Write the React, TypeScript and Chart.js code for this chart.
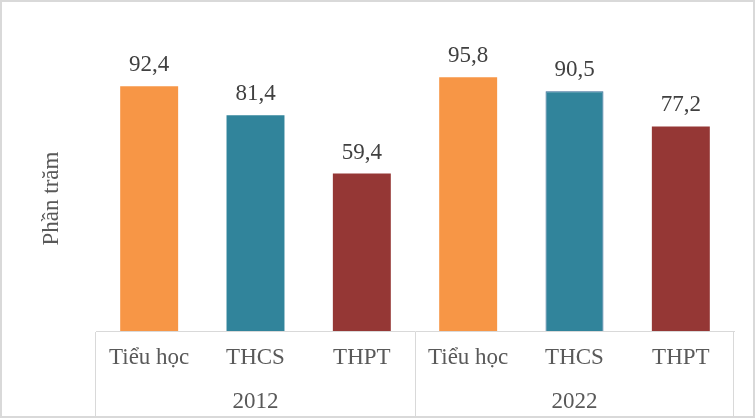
import React, { useEffect, useRef } from "react";
import { Chart, registerables } from "chart.js";

Chart.register(...registerables);

const years = ["2012", "2022"];
const levels = ["Tiểu học", "THCS", "THPT"];
const values2012 = [92.4, 81.4, 59.4];
const values2022 = [95.8, 90.5, 77.2];
const levelColors = ["#F79646", "#31849B", "#953735"];

const FONT = "'Liberation Serif', 'Times New Roman', serif";

const valueLabels = {
  id: "valueLabels",
  afterDatasetsDraw(chart: Chart) {
    const { ctx } = chart;
    const meta = chart.getDatasetMeta(0);
    const data = chart.data.datasets[0].data as number[];
    ctx.save();
    ctx.font = `23px ${FONT}`;
    ctx.fillStyle = "#404040";
    ctx.textAlign = "center";
    ctx.textBaseline = "alphabetic";
    meta.data.forEach((bar: any, i: number) => {
      ctx.fillText(String(data[i]).replace(".", ","), bar.x, bar.y - 15);
    });
    ctx.restore();
  },
};

const App: React.FC = () => {
  const chartRef = useRef<HTMLCanvasElement | null>(null);

  useEffect(() => {
    let chartInstance: Chart | null = null;
    if (chartRef.current) {
      const labels = [...levels, ...levels];
      const values = [...values2012, ...values2022];
      const colors = [...levelColors, ...levelColors];
      chartInstance = new Chart(chartRef.current, {
        type: "bar",
        data: {
          labels,
          datasets: [
            {
              data: values,
              backgroundColor: colors,
              borderColor: ["transparent", "transparent", "transparent", "transparent", "#2E6593", "transparent"],
              borderWidth: [0, 0, 0, 0, 1, 0],
              barPercentage: 0.545,
              categoryPercentage: 1,
            },
          ],
        },
        options: {
          animation: false,
          responsive: true,
          maintainAspectRatio: false,
          layout: { padding: { top: 64, right: 19, left: 0, bottom: 0 } },
          plugins: { legend: { display: false }, tooltip: { enabled: false } },
          scales: {
            x: {
              offset: true,
              grid: {
                offset: true,
                display: true,
                drawOnChartArea: false,
                drawTicks: true,
                tickLength: 85,
                lineWidth: 1,
                color: (c: any) =>
                  c.index === undefined || c.index % 3 === 0 ? "#d9d9d9" : "rgba(0,0,0,0)",
              },
              border: { display: true, color: "#d9d9d9" },
              ticks: {
                font: { family: FONT, size: 23 },
                color: "#595959",
                padding: -72,
                maxRotation: 0,
                autoSkip: false,
              },
              afterFit: (s: any) => {
                s.height = 44;
              },
            },
            x2: {
              type: "category",
              labels: years,
              position: "bottom",
              offset: true,
              grid: { display: false, drawTicks: false },
              border: { display: false },
              ticks: {
                font: { family: FONT, size: 23 },
                color: "#595959",
                padding: 13,
                maxRotation: 0,
              },
              afterFit: (s: any) => {
                s.height = 41;
              },
            },
            y: {
              min: 0,
              max: 100,
              grid: { display: false },
              border: { display: false },
              ticks: { display: false },
              title: {
                display: true,
                text: "Phần trăm",
                font: { family: FONT, size: 23 },
                color: "#595959",
                padding: { top: 36, bottom: 0 },
              },
              afterFit: (s: any) => {
                s.width = 94;
              },
            },
          },
        },
        plugins: [valueLabels],
      });
    }
    return () => {
      if (chartInstance) {
        chartInstance.destroy();
      }
    };
  }, []);

  return (
    <div
      style={{
        position: "fixed",
        left: 0,
        top: 0,
        width: 755,
        height: 418,
        boxSizing: "border-box",
        border: "2px solid #d9d9d9",
        background: "#ffffff",
      }}
    >
      <div style={{ position: "relative", width: 751, height: 414 }}>
        <canvas ref={chartRef} />
      </div>
    </div>
  );
};

export default App;
